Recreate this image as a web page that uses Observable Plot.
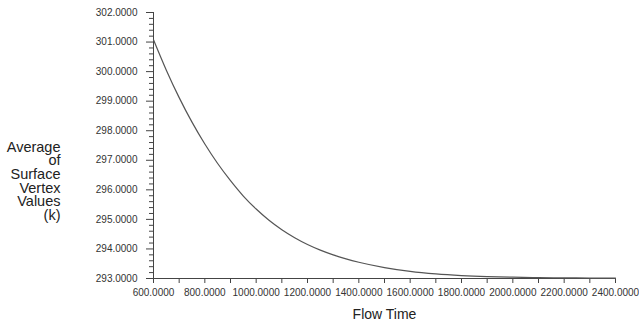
<!DOCTYPE html>
<html>
<head>
<meta charset="utf-8">
<script src="https://cdn.jsdelivr.net/npm/d3@7"></script>
<script src="https://cdn.jsdelivr.net/npm/@observablehq/plot@0.6"></script>
<style>
  html, body { margin: 0; padding: 0; background: #fff; }
  #chart svg { display: block; }
</style>
</head>
<body>
<div id="chart"></div>
<script>
// Data
const flowTime = [600, 650, 700, 750, 800, 850, 900, 950, 1000, 1050, 1100, 1150, 1200, 1250, 1300, 1350, 1400, 1500, 1600, 1700, 1800, 1900, 2000, 2100, 2200, 2300, 2400];
const avgVertex = [301.08, 300.05, 299.12, 298.29, 297.55, 296.89, 296.31, 295.79, 295.35, 294.97, 294.65, 294.38, 294.15, 293.96, 293.80, 293.665, 293.55, 293.37, 293.24, 293.155, 293.10, 293.065, 293.045, 293.03, 293.022, 293.016, 293.012];
const xTicks = [600, 800, 1000, 1200, 1400, 1600, 1800, 2000, 2200, 2400];
const yTicks = [293, 294, 295, 296, 297, 298, 299, 300, 301, 302];
const xLabel = "Flow Time";
const yLabel = "Average\nof\nSurface\nVertex\nValues\n(k)";

const data = flowTime.map((t, i) => ({t, v: avgVertex[i]}));
const xMinor = d3.range(700, 2400, 200);
const yMinor = d3.range(293, 302.001, 0.2).filter(v => Math.abs(v - Math.round(v)) > 1e-6);
const fmt = d3.format(".4f");
const axisColor = "#444";

const chart = Plot.plot({
  width: 639,
  height: 327,
  marginLeft: 153,
  marginRight: 24,
  marginTop: 12,
  marginBottom: 49,
  style: {fontFamily: "'Liberation Sans', Arial, sans-serif", fontSize: "10px", color: "#333", background: "#fff"},
  x: {domain: [600, 2400]},
  y: {domain: [293, 302]},
  marks: [
    Plot.axisY({ticks: yMinor, tickSize: 4, text: null, label: null, stroke: axisColor}),
    Plot.axisY({ticks: yTicks, tickSize: 7, tickPadding: 9, tickFormat: fmt, label: null, stroke: axisColor, fill: "#333", fontSize: 10}),
    Plot.axisX({ticks: xMinor, tickSize: 5, text: null, label: null, stroke: axisColor}),
    Plot.axisX({ticks: xTicks, tickSize: 5, tickPadding: 5, tickFormat: fmt, label: null, stroke: axisColor, fill: "#333", fontSize: 10}),
    Plot.ruleX([600], {stroke: axisColor}),
    Plot.ruleY([293], {stroke: axisColor}),
    Plot.line(data, {x: "t", y: "v", stroke: "#555", strokeWidth: 1.2, curve: "monotone-x"}),
    Plot.text([xLabel], {frameAnchor: "bottom", dy: 40, fontSize: 14, fill: "#222", text: d => d}),
    Plot.text([yLabel], {frameAnchor: "left", dx: -93, dy: 36, textAnchor: "end", fontSize: 14.5, lineHeight: 0.945, fill: "#222", text: d => d})
  ]
});
document.getElementById("chart").appendChild(chart);
</script>
</body>
</html>
